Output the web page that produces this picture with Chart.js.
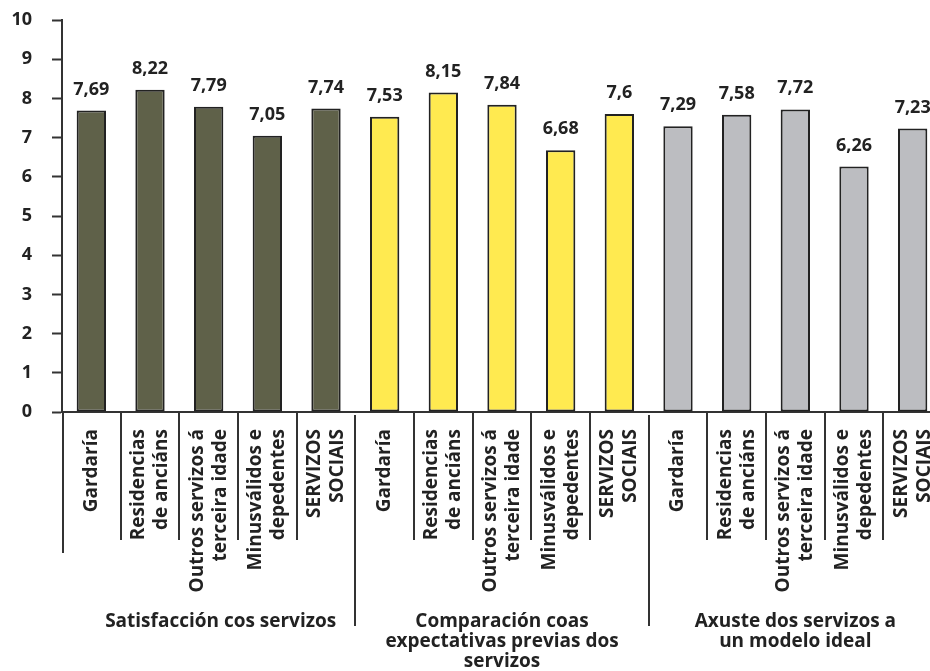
<!DOCTYPE html>
<html>
<head>
<meta charset="utf-8">
<script src="https://cdn.jsdelivr.net/npm/chart.js@4"></script>
<style>
  html, body { margin: 0; padding: 0; background: #fff; overflow: hidden; }
  #wrap { width: 930px; height: 671px; overflow: hidden; }
  canvas { display: block; }
</style>
</head>
<body>
<div id="wrap"><canvas id="servChart" width="942" height="671"></canvas></div>
<script>
const services = [
  ["Gardaría"],
  ["Residencias", "de anciáns"],
  ["Outros servizos á", "terceira idade"],
  ["Minusválidos e", "depedentes"],
  ["SERVIZOS", "SOCIAIS"]
];
const groups = [
  ["Satisfacción cos servizos"],
  ["Comparación coas", "expectativas previas dos", "servizos"],
  ["Axuste dos servizos a", "un modelo ideal"]
];
const satisfaccion = [7.69, 8.22, 7.79, 7.05, 7.74];
const comparacion = [7.53, 8.15, 7.84, 6.68, 7.6];
const axuste = [7.29, 7.58, 7.72, 6.26, 7.23];
const yTicks = [0, 1, 2, 3, 4, 5, 6, 7, 8, 9, 10];

const groupColors = ["#5f6149", "#ffea50", "#bcbdc1"];
const FONT = "'Open Sans', 'Noto Sans', sans-serif";
const INK = "#222";

const labels = [];
const values = [];
const colors = [];
[satisfaccion, comparacion, axuste].forEach((serie, g) => {
  serie.forEach((v, i) => {
    labels.push(services[i]);
    values.push(v);
    colors.push(groupColors[g]);
  });
});

const decimalComma = v => String(v).replace(".", ",");

// value above each bar, rotated category names, separators, group titles
const decorations = {
  id: "decorations",
  afterDatasetsDraw(chart) {
    const ctx = chart.ctx;
    const meta = chart.getDatasetMeta(0);
    ctx.save();
    ctx.fillStyle = INK;
    ctx.font = "bold 18px " + FONT;
    ctx.textAlign = "center";
    ctx.textBaseline = "alphabetic";
    meta.data.forEach((bar, i) => {
      ctx.fillText(decimalComma(values[i]), bar.x, bar.y - 16);
    });
    ctx.restore();
  },
  afterDraw(chart) {
    const ctx = chart.ctx;
    const x = chart.scales.x;
    const base = chart.chartArea.bottom;
    const n = labels.length;
    const per = services.length;
    const step = x.getPixelForValue(1) - x.getPixelForValue(0);
    const edge = i => x.getPixelForValue(i) + step / 2;

    ctx.save();
    ctx.fillStyle = INK;

    // category names, read bottom to top
    ctx.font = "bold 19px " + FONT;
    ctx.textAlign = "right";
    ctx.textBaseline = "middle";
    labels.forEach((lines, i) => {
      ctx.save();
      ctx.translate(x.getPixelForValue(i), base + 17);
      ctx.rotate(-Math.PI / 2);
      lines.forEach((t, k) => ctx.fillText(t, 0, (k - (lines.length - 1) / 2) * 23));
      ctx.restore();
    });

    ctx.strokeStyle = "#333";
    ctx.lineWidth = 2;
    ctx.beginPath();
    ctx.moveTo(chart.chartArea.left + 1, base);
    ctx.lineTo(chart.chartArea.left + 1, base + 141);
    for (let i = 0; i < n - 1; i++) {
      const px = Math.round(edge(i));
      const long = (i + 1) % per === 0;
      ctx.moveTo(px, base + (long ? 3 : 1));
      ctx.lineTo(px, base + (long ? 214 : 128));
    }
    ctx.stroke();

    ctx.font = "bold 19px " + FONT;
    ctx.textAlign = "center";
    groups.forEach((lines, g) => {
      const left = g === 0 ? chart.chartArea.left : edge(g * per - 1);
      const right = edge((g + 1) * per - 1);
      const cx = (left + right) / 2 + (g === 0 ? 12 : 0);
      lines.forEach((t, k) => ctx.fillText(t, cx, base + 210 + k * 20));
    });
    ctx.restore();
  }
};

new Chart(document.getElementById("servChart"), {
  type: "bar",
  data: {
    labels: labels,
    datasets: [{
      data: values,
      backgroundColor: colors,
      borderColor: "#222",
      borderWidth: 2,
      borderSkipped: false,
      barPercentage: 0.5,
      categoryPercentage: 1
    }]
  },
  options: {
    responsive: false,
    animation: false,
    events: [],
    layout: { padding: { top: 20, right: 0, bottom: 0, left: 0 } },
    plugins: {
      legend: { display: false },
      tooltip: { enabled: false }
    },
    scales: {
      x: {
        grid: { display: false },
        border: { display: true, color: "#333", width: 2 },
        ticks: { display: false },
        afterFit: s => {
          s.height = 259;
          s.paddingLeft = 0;
          s.paddingRight = 0;
        }
      },
      y: {
        min: 0,
        max: 10,
        afterFit: s => {
          s.width = 62;
          s.paddingTop = 0;
          s.paddingBottom = 0;
        },
        afterBuildTicks: s => { s.ticks = yTicks.map(v => ({ value: v })); },
        grid: {
          drawOnChartArea: false,
          drawTicks: true,
          tickLength: 10,
          tickColor: "#333",
          tickWidth: 2
        },
        border: { display: true, color: "#333", width: 2 },
        ticks: {
          padding: 20,
          color: INK,
          font: { family: FONT, size: 18, weight: "bold" }
        }
      }
    }
  },
  plugins: [decorations]
});
</script>
</body>
</html>
